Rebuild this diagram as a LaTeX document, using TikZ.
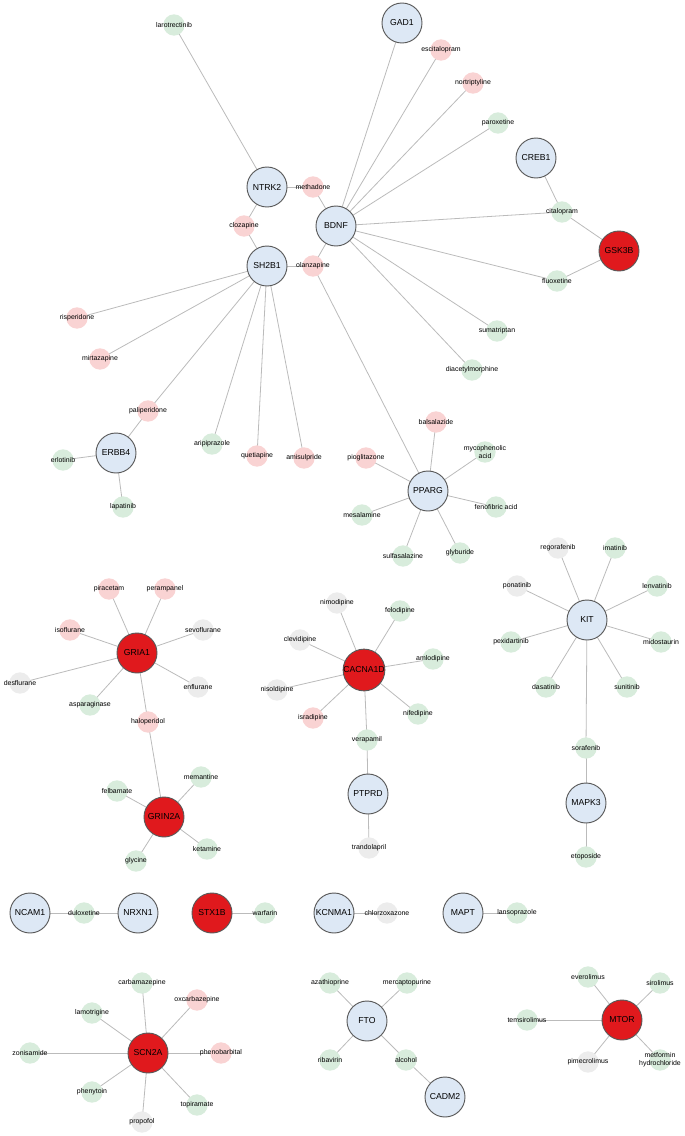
\documentclass[tikz,border=0pt]{standalone}
\usepackage{fontspec}
\setmainfont{Liberation Sans}
\usetikzlibrary{backgrounds}
\definecolor{cg}{HTML}{D8ECDC}
\definecolor{cp}{HTML}{F9D3D3}
\definecolor{cy}{HTML}{ECECEC}
\definecolor{cb}{HTML}{DDE8F5}
\definecolor{cr}{HTML}{E0191D}
\definecolor{ce}{HTML}{BBBBBB}
\tikzset{
 gene/.style={circle,draw=black!65,line width=0.7pt,fill=cb,minimum size=30pt,inner sep=0pt,font=\fontsize{6.5}{7}\selectfont},
 rgene/.style={gene,fill=cr},
 dot/.style={circle,minimum size=16pt,inner sep=0pt,draw=none},
 dg/.style={dot,fill=cg},
 dp/.style={dot,fill=cp},
 dy/.style={dot,fill=cy},
 lab/.style={font=\fontsize{5.2}{5.8}\selectfont,align=center,inner sep=0pt},
 e/.style={draw=ce,line width=0.6pt}
}
\newcommand{\dn}[5]{\node[d#1,label={[lab]center:{#5}}] (#2) at (#3,#4) {};}
\begin{document}
\begin{tikzpicture}[x=0.75pt,y=-0.75pt]
\useasboundingbox (0,0) rectangle (685,1136);
% genes
\node[gene] (GAD1) at (402,23) {GAD1};
\node[gene] (NTRK2) at (267,187) {NTRK2};
\node[gene] (BDNF) at (336,226) {BDNF};
\node[gene] (SH2B1) at (267,266) {SH2B1};
\node[gene] (CREB1) at (536,158) {CREB1};
\node[rgene] (GSK3B) at (619,251) {GSK3B};
\node[gene] (ERBB4) at (116,453) {ERBB4};
\node[gene] (PPARG) at (428,491) {PPARG};
\node[rgene] (GRIA1) at (137,653) {GRIA1};
\node[rgene] (CACNA1D) at (364,670) {CACNA1D};
\node[gene] (KIT) at (587,620) {KIT};
\node[rgene] (GRIN2A) at (164,817) {GRIN2A};
\node[gene] (PTPRD) at (368,794) {PTPRD};
\node[gene] (MAPK3) at (586,803) {MAPK3};
\node[gene] (NCAM1) at (30,913) {NCAM1};
\node[gene] (NRXN1) at (138,913) {NRXN1};
\node[rgene] (STX1B) at (212,913) {STX1B};
\node[gene] (KCNMA1) at (334,913) {KCNMA1};
\node[gene] (MAPT) at (463,913) {MAPT};
\node[rgene] (SCN2A) at (148,1053) {SCN2A};
\node[gene] (FTO) at (367,1021) {FTO};
\node[gene] (CADM2) at (445,1097) {CADM2};
\node[rgene] (MTOR) at (622,1020) {MTOR};
% drugs
\dn{g}{laro}{174}{25}{larotrectinib}
\dn{p}{metha}{313}{187}{methadone}
\dn{p}{cloz}{244}{226}{clozapine}
\dn{p}{olan}{313}{266}{olanzapine}
\dn{p}{risp}{77}{318}{risperidone}
\dn{p}{mirt}{100}{359}{mirtazapine}
\dn{p}{escit}{441}{50}{escitalopram}
\dn{p}{nort}{473}{83}{nortriptyline}
\dn{g}{parox}{498}{123}{paroxetine}
\dn{g}{cital}{562}{212}{citalopram}
\dn{g}{fluox}{557}{281}{fluoxetine}
\dn{g}{suma}{497}{331}{sumatriptan}
\dn{g}{diac}{472}{370}{diacetylmorphine}
\dn{p}{pali}{148}{411}{paliperidone}
\dn{g}{erlo}{63}{460}{erlotinib}
\dn{g}{lapa}{123}{507}{lapatinib}
\dn{g}{arip}{212}{444}{aripiprazole}
\dn{p}{quet}{257}{456}{quetiapine}
\dn{p}{amis}{304}{458}{amisulpride}
\dn{p}{balsa}{436}{422}{balsalazide}
\dn{g}{myco}{485}{452}{mycophenolic\\acid}
\dn{p}{piog}{366}{458}{pioglitazone}
\dn{g}{mesa}{362}{515}{mesalamine}
\dn{g}{feno}{496}{507}{fenofibric acid}
\dn{g}{sulfa}{403}{556}{sulfasalazine}
\dn{g}{glyb}{460}{553}{glyburide}
\dn{p}{pirac}{109}{589}{piracetam}
\dn{p}{peram}{165}{589}{perampanel}
\dn{p}{isof}{70}{630}{isoflurane}
\dn{y}{sevo}{203}{630}{sevoflurane}
\dn{y}{desf}{20}{683}{desflurane}
\dn{y}{enfl}{198}{687}{enflurane}
\dn{g}{aspa}{90}{705}{asparaginase}
\dn{p}{halo}{148}{722}{haloperidol}
\dn{g}{felb}{117}{791}{felbamate}
\dn{g}{meman}{201}{777}{memantine}
\dn{g}{keta}{207}{849}{ketamine}
\dn{g}{glyc}{136}{861}{glycine}
\dn{y}{nimo}{337}{603}{nimodipine}
\dn{g}{felo}{400}{611}{felodipine}
\dn{y}{clev}{300}{640}{clevidipine}
\dn{g}{amlo}{433}{659}{amlodipine}
\dn{y}{niso}{277}{690}{nisoldipine}
\dn{p}{isra}{313}{718}{isradipine}
\dn{g}{nife}{418}{714}{nifedipine}
\dn{g}{vera}{367}{740}{verapamil}
\dn{y}{trando}{369}{848}{trandolapril}
\dn{y}{rego}{558}{548}{regorafenib}
\dn{g}{imat}{615}{548}{imatinib}
\dn{y}{pona}{517}{586}{ponatinib}
\dn{g}{lenv}{657}{586}{lenvatinib}
\dn{g}{pexi}{511}{642}{pexidartinib}
\dn{g}{mido}{661}{642}{midostaurin}
\dn{g}{dasa}{546}{687}{dasatinib}
\dn{g}{suni}{627}{687}{sunitinib}
\dn{g}{sora}{586}{748}{sorafenib}
\dn{g}{etop}{586}{857}{etoposide}
\dn{g}{dulox}{84}{913}{duloxetine}
\dn{g}{warf}{265}{913}{warfarin}
\dn{y}{chlor}{387}{913}{chlorzoxazone}
\dn{g}{lanso}{517}{913}{lansoprazole}
\dn{g}{carba}{142}{983}{carbamazepine}
\dn{p}{oxcar}{197}{1000}{oxcarbazepine}
\dn{g}{lamo}{92}{1013}{lamotrigine}
\dn{g}{zoni}{30}{1053}{zonisamide}
\dn{p}{pheno}{221}{1053}{phenobarbital}
\dn{g}{phen}{92}{1092}{phenytoin}
\dn{g}{topi}{197}{1105}{topiramate}
\dn{y}{propo}{142}{1122}{propofol}
\dn{g}{azat}{330}{983}{azathioprine}
\dn{g}{merc}{407}{983}{mercaptopurine}
\dn{g}{riba}{330}{1060}{ribavirin}
\dn{g}{alco}{406}{1060}{alcohol}
\dn{g}{everol}{588}{977}{everolimus}
\dn{g}{sirol}{660}{983}{sirolimus}
\dn{g}{temsi}{527}{1020}{temsirolimus}
\dn{y}{pime}{588}{1062}{pimecrolimus}
\dn{g}{metf}{660}{1060}{metformin\\hydrochloride}
\begin{pgfonlayer}{background}
\foreach \a/\b in {GAD1/BDNF,laro/NTRK2,NTRK2/metha,metha/BDNF,NTRK2/cloz,cloz/SH2B1,
 BDNF/escit,BDNF/nort,BDNF/parox,BDNF/cital,CREB1/cital,cital/GSK3B,GSK3B/fluox,BDNF/fluox,
 BDNF/suma,BDNF/diac,BDNF/olan,SH2B1/olan,olan/PPARG,SH2B1/risp,SH2B1/mirt,SH2B1/pali,
 SH2B1/arip,SH2B1/quet,SH2B1/amis,pali/ERBB4,ERBB4/erlo,ERBB4/lapa,
 PPARG/balsa,PPARG/myco,PPARG/piog,PPARG/mesa,PPARG/feno,PPARG/sulfa,PPARG/glyb,
 GRIA1/pirac,GRIA1/peram,GRIA1/isof,GRIA1/sevo,GRIA1/desf,GRIA1/enfl,GRIA1/aspa,GRIA1/halo,
 halo/GRIN2A,GRIN2A/felb,GRIN2A/meman,GRIN2A/keta,GRIN2A/glyc,
 CACNA1D/nimo,CACNA1D/felo,CACNA1D/clev,CACNA1D/amlo,CACNA1D/niso,CACNA1D/isra,CACNA1D/nife,CACNA1D/vera,
 vera/PTPRD,PTPRD/trando,
 KIT/rego,KIT/imat,KIT/pona,KIT/lenv,KIT/pexi,KIT/mido,KIT/dasa,KIT/suni,KIT/sora,sora/MAPK3,MAPK3/etop,
 NCAM1/dulox,dulox/NRXN1,STX1B/warf,KCNMA1/chlor,MAPT/lanso,
 SCN2A/carba,SCN2A/oxcar,SCN2A/lamo,SCN2A/zoni,SCN2A/pheno,SCN2A/phen,SCN2A/topi,SCN2A/propo,
 FTO/azat,FTO/merc,FTO/riba,FTO/alco,alco/CADM2,
 MTOR/everol,MTOR/sirol,MTOR/temsi,MTOR/pime,MTOR/metf}
 {\draw[e] (\a.center) -- (\b.center);}
\end{pgfonlayer}
\end{tikzpicture}
\end{document}
